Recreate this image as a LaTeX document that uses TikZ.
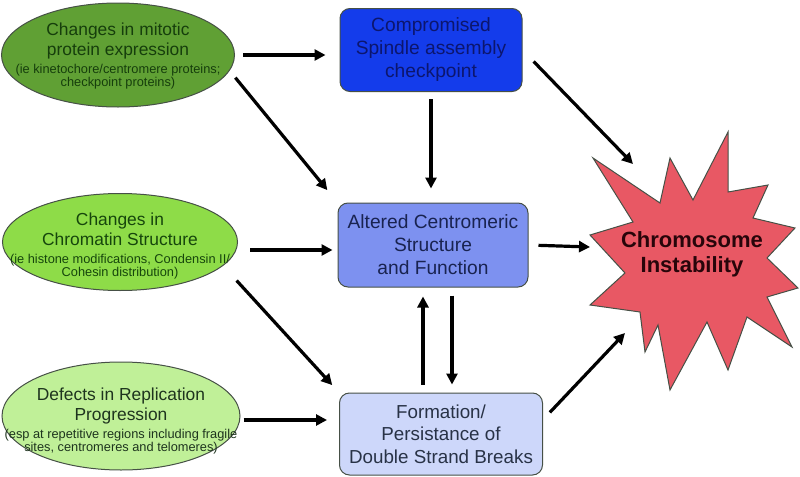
\documentclass[tikz,border=0pt]{standalone}
\usepackage{fontspec}
\setmainfont{Liberation Sans}
\usetikzlibrary{arrows.meta}
\usetikzlibrary{shapes.geometric}
\definecolor{mitgreen}{RGB}{96,160,52}
\definecolor{chromgreen}{RGB}{142,220,72}
\definecolor{replgreen}{RGB}{192,240,152}
\definecolor{mittext}{RGB}{22,62,12}
\definecolor{chromtext}{RGB}{22,70,12}
\definecolor{repltext}{RGB}{30,52,30}
\definecolor{sacblue}{RGB}{20,60,235}
\definecolor{cenblue}{RGB}{125,145,240}
\definecolor{dsbblue}{RGB}{205,215,250}
\definecolor{sactext}{RGB}{12,22,110}
\definecolor{centext}{RGB}{25,35,80}
\definecolor{dsbtext}{RGB}{40,50,70}
\definecolor{cinred}{RGB}{232,88,100}
\definecolor{cintext}{RGB}{40,5,10}
\definecolor{rand}{RGB}{70,80,70}
\newcommand{\mainfont}{\fontsize{8.7}{10}\selectfont}
\newcommand{\smallfont}{\fontsize{6.4}{7}\selectfont}

\begin{document}
\begin{tikzpicture}[x=0.5pt, y=-0.5pt,
    cause/.style={ellipse, draw=rand, line width=0.5pt, inner sep=0pt},
    causetext/.style={inner sep=0pt, align=center, font=\mainfont},
    effect/.style={rectangle, rounded corners=5pt, draw=rand, line width=0.5pt, inner sep=0pt, align=center, font=\fontsize{9.6}{11.5}\selectfont},
    pfeil/.style={line width=1.6pt, -{Triangle[length=5.5pt,width=5.5pt]}}]

    \useasboundingbox (0,0) rectangle (800,477);

    % causes
    \node[cause, fill=mitgreen, minimum width=116.5pt, minimum height=52pt] (e1) at (118,55) {};
    \node[causetext, text=mittext] (e1text) at (118,56)
        {Changes in mitotic\\protein expression\\[-1pt]{\smallfont (ie kinetochore/centromere proteins;}\\[-3.5pt]{\smallfont checkpoint proteins)}};
    \node[cause, fill=chromgreen, minimum width=117.5pt, minimum height=48.5pt] (e2) at (120,242) {};
    \node[causetext, text=chromtext] (e2text) at (120,246)
        {Changes in\\Chromatin Structure\\[-1pt]{\smallfont (ie histone modifications, Condensin II/}\\[-3.5pt]{\smallfont Cohesin distribution)}};
    \node[cause, fill=replgreen, minimum width=119pt, minimum height=54pt] (e3) at (121,416) {};
    \node[causetext, text=repltext] (e3text) at (121,421)
        {Defects in Replication\\Progression\\[-1pt]{\smallfont (esp at repetitive regions including fragile}\\[-3.5pt]{\smallfont sites, centromeres and telomeres)}};

    % mechanisms
    \node[effect, fill=sacblue, text=sactext, minimum width=91pt, minimum height=41.5pt] (b1) at (431,50)
        {Compromised\\Spindle assembly\\checkpoint};
    \node[effect, fill=cenblue, text=centext, minimum width=95pt, minimum height=42pt] (b2) at (433,245)
        {Altered Centromeric\\Structure\\and Function};
    \node[effect, fill=dsbblue, text=dsbtext, minimum width=101.5pt, minimum height=41pt, font=\fontsize{9.4}{11.25}\selectfont] (b3) at (441,434)
        {Formation/\\Persistance of\\Double Strand Breaks};

    % outcome
    \draw[fill=cinred, draw=rand, line width=0.5pt] (728,132) -- (728,192) -- (768,185) -- (753,218) -- (795,228)
        -- (767,258) -- (798,288) -- (767,297) -- (792,347) -- (747,317) -- (728,370) -- (707,322)
        -- (670,390) -- (658,325) -- (645,352) -- (640,312) -- (590,305) -- (625,273) -- (590,235)
        -- (633,222) -- (593,158) -- (660,203) -- (670,158) -- (693,200) -- cycle;
    \node[text=cintext, align=center, font=\bfseries\fontsize{11}{12.5}\selectfont] (cin) at (692,254) {Chromosome\\Instability};
    \coordinate (cinNW) at (633,164);
    \coordinate (cinW) at (590,247);
    \coordinate (cinSW) at (625,333);

    \draw[pfeil, shorten <=4pt, shorten >=7pt] (e1.east) -- (e1.east -| b1.west);
    \draw[pfeil, shorten <=4.5pt, shorten >=8pt] (e1.-8) -- (b2.north west);
    \draw[pfeil, shorten <=3.5pt, shorten >=7pt] (b1.south) -- (b1.south |- b2.north);
    \draw[pfeil, shorten <=6pt, shorten >=2.5pt] ([yshift=-2.5pt]b2.west -| e2.east) -- ([yshift=-2.5pt]b2.west);
    \draw[pfeil, shorten <=10pt, shorten >=5pt] (e2.-13) -- (b3.north west);
    \draw[pfeil, shorten <=1.5pt, shorten >=6pt] ([yshift=-2pt]e3.east) -- ([yshift=-2pt]e3.east -| b3.west);
    \draw[pfeil, shorten <=4pt, shorten >=4.5pt] ([xshift=-5pt]b2.south |- b3.north) -- ([xshift=-5pt]b2.south);
    \draw[pfeil, shorten <=4pt, shorten >=4pt] ([xshift=9.5pt]b2.south) -- ([xshift=9.5pt]b2.south |- b3.north);
    \draw[pfeil, shorten <=8pt] (b1.east) -- (cinNW);
    \draw[pfeil, shorten <=5pt] (b2.east) -- (cinW);
    \draw[pfeil, shorten <=5pt] (b3.8) -- (cinSW);

\end{tikzpicture}
\end{document}
